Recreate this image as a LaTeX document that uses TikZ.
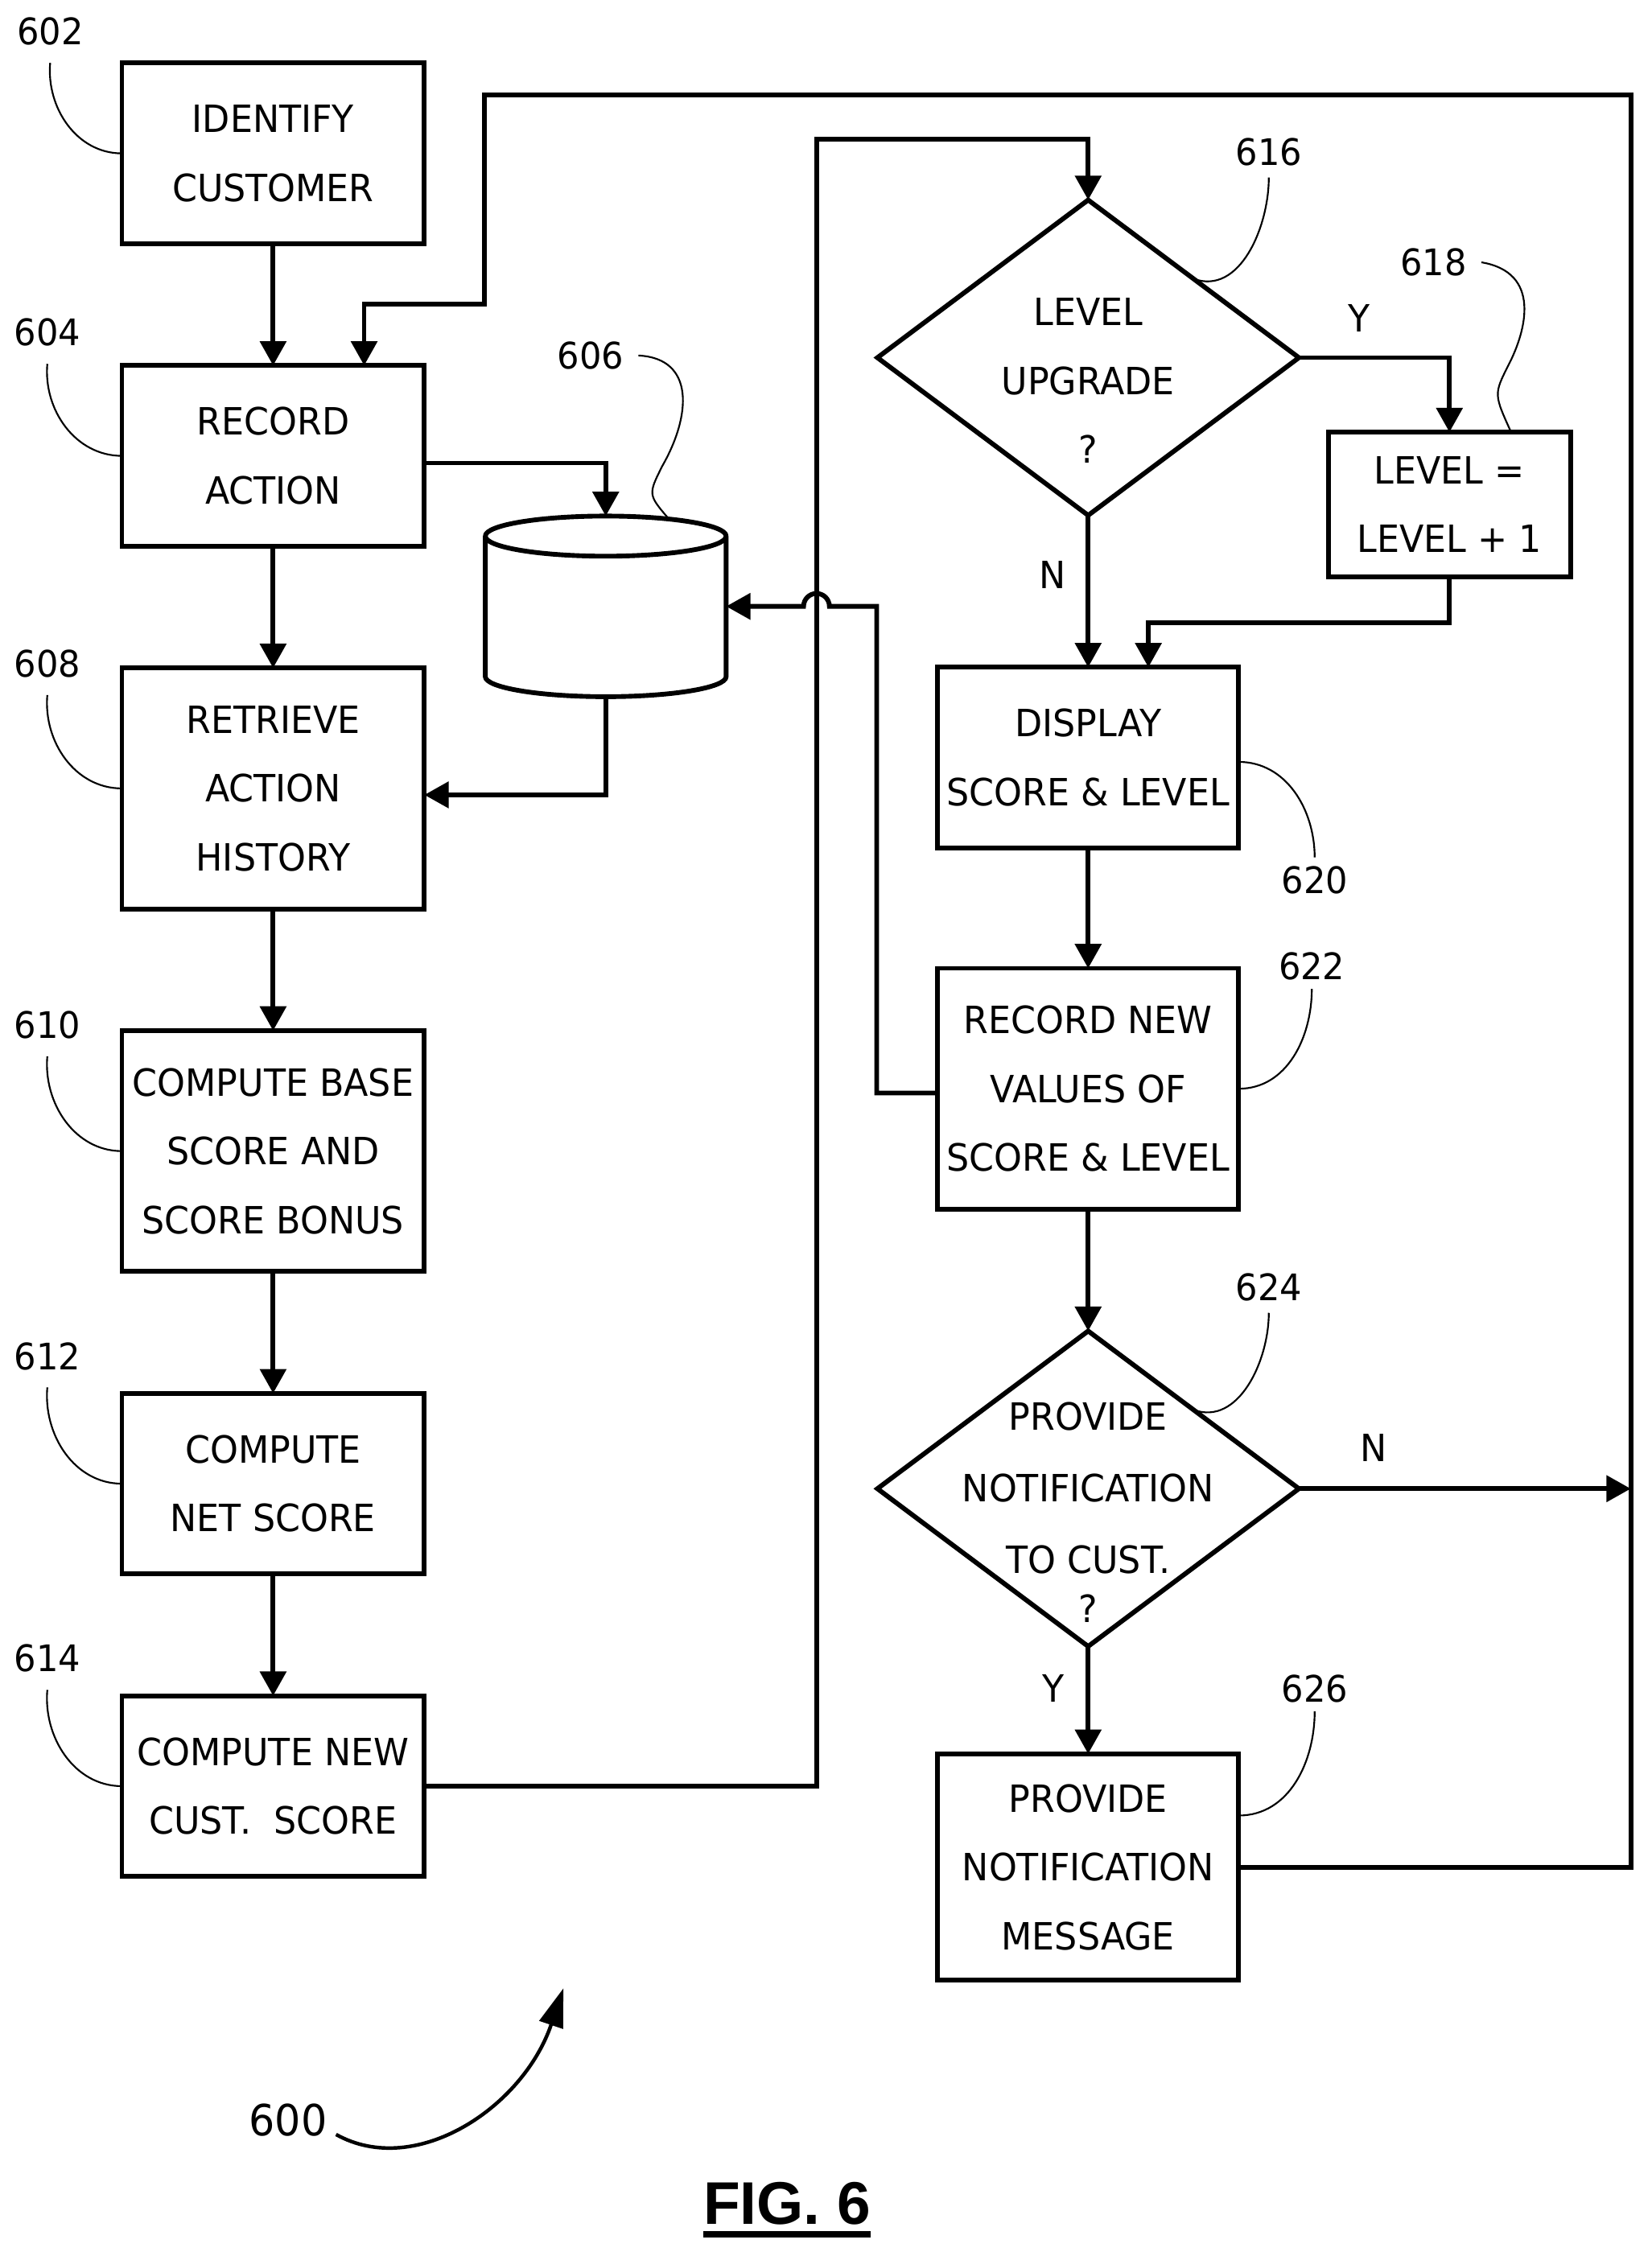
\documentclass[tikz,border=0pt]{standalone}
\usepackage{fontspec}
\setmainfont[FakeStretch=0.95]{DejaVu Sans}
\newfontfamily\figfont{Liberation Sans}
\usetikzlibrary{calc,positioning,shapes.geometric,arrows.meta}

\begin{document}
\begin{tikzpicture}[
        x=1pt, y=1pt,
        node distance=85pt,
        block/.style={draw, line width=3.3pt, outer sep=0pt, inner sep=0pt, minimum width=211pt, minimum height=126pt, align=center, font=\fontsize{26.2}{48}\selectfont},
        tallblock/.style={block, minimum height=168pt},
        decision/.style={diamond, draw, line width=3.3pt, outer sep=0pt, inner sep=0pt, minimum width=294pt, minimum height=220pt, shape aspect=1.336},
        decisiontext/.style={align=center, inner sep=0pt, font=\fontsize{26.2}{48}\selectfont},
        store/.style={outer sep=0pt, inner sep=0pt, minimum width=168pt, minimum height=126pt},
        storeline/.style={line width=3.3pt, line join=round},
        refnum/.style={inner sep=0pt, font=\fontsize{25.5}{30}\selectfont},
        yesno/.style={inner sep=0pt, font=\fontsize{26.2}{30}\selectfont},
        arrow/.style={-{Triangle[length=17pt,width=18pt]}, line width=3.3pt},
        leader/.style={line width=1.2pt},
    ]
    \useasboundingbox (0,0) rectangle (1152,-1571);

    % Left column
    \node[block] (s602) at (190.5,-107) {IDENTIFY\\CUSTOMER};
    \node[block, below=of s602] (s604) {RECORD\\ACTION};
    \node[tallblock, below=of s604] (s608) {RETRIEVE\\ACTION\\HISTORY};
    \node[tallblock, below=of s608] (s610) {COMPUTE BASE\\SCORE AND\\SCORE BONUS};
    \node[block, below=of s610] (s612) {COMPUTE\\NET SCORE};
    \node[block, below=of s612] (s614) {COMPUTE NEW\\CUST.\ \ SCORE};

    % Database
    \node[store] (db) at (422.5,-423) {};
    \draw[storeline] ([yshift=-14pt]db.north west) arc[x radius=84, y radius=14, start angle=180, end angle=-180]
        -- ([yshift=14pt]db.south west) arc[x radius=84, y radius=14, start angle=180, end angle=360]
        -- ([yshift=-14pt]db.north east);

    % Right column
    \node[decision] (d616) at (759,-249.5) {};
    \node[decisiontext, yshift=-16pt] (t616) at (d616) {LEVEL\\UPGRADE\\?};
    \node[block, minimum width=169pt, minimum height=101pt] (s618) at (1011,-352) {LEVEL =\\LEVEL + 1};
    \node[block, minimum width=210pt, below=106pt of d616] (s620) {DISPLAY\\SCORE \& LEVEL};
    \node[tallblock, minimum width=210pt, below=84pt of s620] (s622) {RECORD NEW\\VALUES OF\\SCORE \& LEVEL};
    \node[decision, below=85pt of s622] (d624) {};
    \node[decisiontext, yshift=-16.5pt, font=\fontsize{26.2}{50}\selectfont] (t624) at (d624) {PROVIDE\\NOTIFICATION\\TO CUST.\\[-16pt]?};
    \node[tallblock, minimum width=210pt, minimum height=158pt, below=75pt of d624] (s626) {PROVIDE\\NOTIFICATION\\MESSAGE};

    % Reference numbers
    \node[refnum] (l602) at (35,-22) {602};
    \node[refnum] (l604) at (33,-232) {604};
    \node[refnum] (l606) at (412,-248) {606};
    \node[refnum] (l608) at (33,-463) {608};
    \node[refnum] (l610) at (33,-715) {610};
    \node[refnum] (l612) at (33,-946) {612};
    \node[refnum] (l614) at (33,-1157) {614};
    \node[refnum] (l616) at (885,-106) {616};
    \node[refnum] (l618) at (1000,-183) {618};
    \node[refnum] (l620) at (917,-614) {620};
    \node[refnum] (l622) at (915,-674) {622};
    \node[refnum] (l624) at (885,-898) {624};
    \node[refnum] (l626) at (917,-1178) {626};
    \node[refnum, font=\fontsize{30}{34}\selectfont] (l600) at (201,-1479) {600};
    \node[inner sep=0pt, font=\figfont\bfseries\fontsize{42}{48}\selectfont] (fig) at (549,-1537) {FIG. 6};

    % Branch labels
    \node[yesno] (y616) at (948,-222) {Y};
    \node[yesno] (n616) at (734,-401) {N};
    \node[yesno] (n624) at (958,-1010) {N};
    \node[yesno] (y624) at (735,-1178) {Y};

    % Helper points
    \coordinate (up) at (569.5,-97);
    \coordinate (rightedge) at (1137.5,-66);
    \coordinate (back) at (338,-212);
    \coordinate (turn) at (611.5,-423);
    \coordinate (hop) at (569.5,-423);
    \coordinate (tip600) at (393,-1387);

    % Lines
    \draw[arrow] (s602) -- (s604);
    \draw[arrow] (s604) -- (s608);
    \draw[arrow] (s608) -- (s610);
    \draw[arrow] (s610) -- (s612);
    \draw[arrow] (s612) -- (s614);
    \draw[arrow] ([yshift=-5pt]s604.east) -| (db.north);
    \draw[arrow] (db.south) |- ([yshift=-4.5pt]s608.east);
    \draw[arrow] (s614.east) -| (up) -| (d616.north);
    \draw[arrow] (d616.east) -| (s618.north);
    \draw[arrow] (d616.south) -- (s620.north);
    \draw[arrow] (s618.south) -- ++(0,-32) -| ([xshift=42pt]s620.north);
    \draw[arrow] (s620) -- (s622);
    \draw[arrow] (s622) -- (d624);
    \draw[arrow] (d624.south) -- (s626.north);
    \draw[arrow] (d624.east) -- (d624.east -| rightedge);
    \draw[arrow] ([yshift=-3pt]s622.west) -| (turn) -- ([xshift=9pt]hop) arc[start angle=0, end angle=180, radius=9pt] -- (db.east);
    \draw[arrow] (s626.east) -| (rightedge) -| (back) -| ([xshift=63.5pt]s604.north);

    % Leaders
    \draw[leader] ([yshift=-12pt]l602.south) to[out=-95, in=180] (s602.west);
    \draw[leader] ([yshift=-12pt]l604.south) to[out=-95, in=180] (s604.west);
    \draw[leader] ([yshift=-12pt]l608.south) to[out=-95, in=180] (s608.west);
    \draw[leader] ([yshift=-12pt]l610.south) to[out=-95, in=180] (s610.west);
    \draw[leader] ([yshift=-12pt]l612.south) to[out=-95, in=180] (s612.west);
    \draw[leader] ([yshift=-12pt]l614.south) to[out=-95, in=180] (s614.west);
    \draw[leader] ([xshift=10pt]l606.east) .. controls (485,-250) and (482,-290) .. (462,-325) .. controls (452,-345) .. ([xshift=44pt,yshift=-2pt]db.north);
    \draw[leader] ([yshift=-8pt]l616.south) to[out=-90, in=-20] (d616.north east);
    \draw[leader] ([xshift=10pt]l618.east) .. controls (1075,-190) and (1065,-230) .. (1052,-255) .. controls (1042,-275) .. ([xshift=43pt]s618.north);
    \draw[leader] ([yshift=-3pt]s620.east) to[out=0, in=90] ([yshift=6pt]l620.north);
    \draw[leader] (s622.east) to[out=0, in=-90] ([yshift=-6pt]l622.south);
    \draw[leader] ([yshift=-8pt]l624.south) to[out=-90, in=-20] (d624.north east);
    \draw[leader] ([yshift=36pt]s626.east) to[out=0, in=-90] ([yshift=-6pt]l626.south);
    \draw[-{Triangle[length=27pt,width=17pt]}, line width=2.5pt] ([xshift=6pt,yshift=-10pt]l600.east) .. controls (290,-1520) and (365,-1470) .. (tip600);
    \draw[line width=4.5pt] ([yshift=-7pt]fig.base west) -- ([yshift=-7pt]fig.base east);
\end{tikzpicture}
\end{document}
